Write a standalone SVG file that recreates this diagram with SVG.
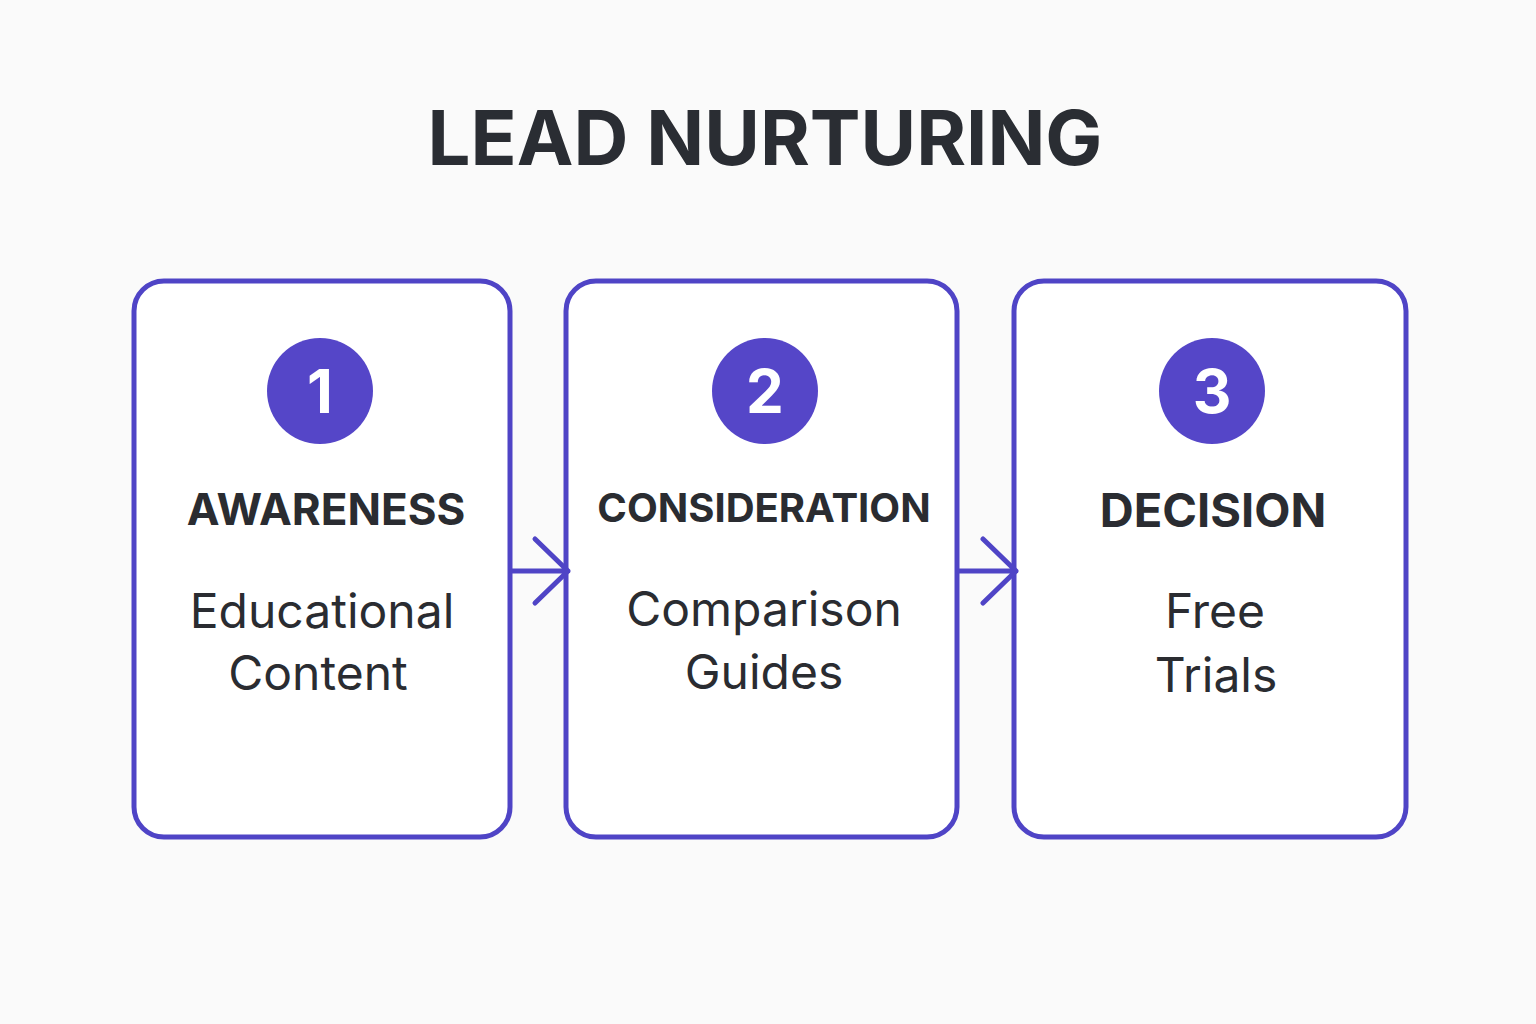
<svg xmlns="http://www.w3.org/2000/svg" width="1536" height="1024" viewBox="0 0 1536 1024">
<style>
.box{fill:#fff;stroke:#4f44c6;stroke-width:5}
.circ{fill:#5546c8}
.num{font-family:"Inter","Liberation Sans",sans-serif;font-weight:700;font-size:60px;fill:#fff;text-anchor:middle}
.head{font-family:"Inter","Liberation Sans",sans-serif;font-weight:700;font-size:40px;fill:#2a2c31;text-anchor:middle}
.body{font-family:"Inter","Liberation Sans",sans-serif;font-size:48px;fill:#2a2c31;text-anchor:middle}
.conn{fill:none;stroke:#4f44c6;stroke-width:5;stroke-linecap:round;stroke-linejoin:round}
</style>
<rect width="1536" height="1024" fill="#fafafa"/>
<text x="765" y="165" font-family="Inter,'Liberation Sans',sans-serif" font-weight="700" font-size="76" fill="#2a2d33" text-anchor="middle">LEAD NURTURING</text>
<g id="node1"><rect class="box" x="134" y="281" width="376" height="556" rx="30"/><circle class="circ" cx="320" cy="391" r="53"/><text class="num" x="320" y="413">1</text><text class="head" x="326" y="525" style="font-size:44px">AWARENESS</text><text class="body" x="322" y="628">Educational</text><text class="body" x="318" y="690">Content</text></g>
<g id="node2"><rect class="box" x="566" y="281" width="391" height="556" rx="30"/><circle class="circ" cx="765" cy="391" r="53"/><text class="num" x="765" y="413">2</text><text class="head" x="764" y="522">CONSIDERATION</text><text class="body" x="764" y="626">Comparison</text><text class="body" x="764" y="689">Guides</text></g>
<g id="node3"><rect class="box" x="1014" y="281" width="392" height="556" rx="30"/><circle class="circ" cx="1212" cy="391" r="53"/><text class="num" x="1212" y="413">3</text><text class="head" x="1213" y="527" style="font-size:47px">DECISION</text><text class="body" x="1215" y="628">Free</text><text class="body" x="1216" y="692">Trials</text></g>
<g id="connectors">
<path class="conn" d="M512 571H568M535 539L568 571L535 603"/>
<path class="conn" d="M959 571H1016M983 539L1016 571L983 603"/>
</g>
</svg>
